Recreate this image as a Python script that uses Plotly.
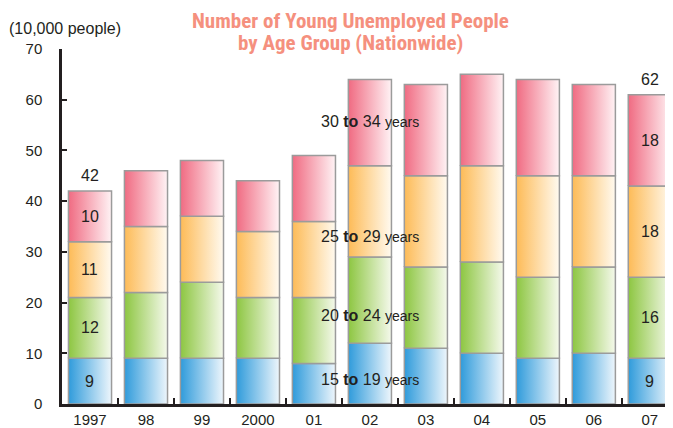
import plotly.graph_objects as go

# data (unit: 10,000 people)
years = ["1997", "98", "99", "2000", "01", "02", "03", "04", "05", "06", "07"]
age_15_19 = [9, 9, 9, 9, 8, 12, 11, 10, 9, 10, 9]
age_20_24 = [12, 13, 15, 12, 13, 17, 16, 18, 16, 17, 16]
age_25_29 = [11, 13, 13, 13, 15, 18, 18, 19, 20, 18, 18]
age_30_34 = [10, 11, 11, 10, 13, 17, 18, 18, 19, 18, 18]
total_labels = {"1997": "42", "07": "62"}
series_names = ["15 to 19 years", "20 to 24 years", "25 to 29 years", "30 to 34 years"]
title_lines = ["Number of Young Unemployed People", "by Age Group (Nationwide)"]

series = [age_15_19, age_20_24, age_25_29, age_30_34]
# left (saturated) -> right (pale) colours of each band
grads = [
    ("#2f9bdb", "#eef6fc"),
    ("#8dc641", "#f5f9ec"),
    ("#fdbb57", "#fffaf0"),
    ("#f06b82", "#fff3f5"),
]
dark = "#231f20"
half = 0.385

fig = go.Figure()

base = [0] * len(years)
for s, vals in enumerate(series):
    for i, v in enumerate(vals):
        b = base[i]
        fig.add_trace(go.Scatter(
            x=[i - half, i + half, i + half, i - half, i - half],
            y=[b, b, b + v, b + v, b],
            mode="lines",
            fill="toself",
            fillgradient=dict(type="horizontal",
                              colorscale=[[0, grads[s][0]], [1, grads[s][1]]]),
            line=dict(color="#9b9b9b", width=1.5),
            showlegend=False,
            hoverinfo="skip",
        ))
        # segment values written only on the first and last bars
        if years[i] in total_labels:
            fig.add_annotation(x=i, y=b + v / 2, text=str(v), showarrow=False,
                               font=dict(size=16, color=dark))
        base[i] = b + v

for i, y in enumerate(years):
    if y in total_labels:
        fig.add_annotation(x=i, y=base[i] + 3, text=total_labels[y], showarrow=False,
                           font=dict(size=16, color=dark))

# series names, written across the 2002 bar
name_y = [4.9, 17.4, 33, 55.7]
for name, yy in zip(series_names, name_y):
    a, _, b, word = name.split(" ")
    fig.add_annotation(
        x=years.index("02"), y=yy, showarrow=False,
        text=f"{a} <b>to</b> {b} <span style='font-size:14px'>{word}</span>",
        font=dict(size=16, color=dark),
    )

fig.add_annotation(xref="paper", yref="paper", x=0.005, y=1.059, xanchor="center",
                   yanchor="middle", text="(10,000 people)", showarrow=False,
                   font=dict(size=16, color=dark))
# title, one annotation per line for tight leading
for line, ty in zip(title_lines, [1.079, 1.018]):
    fig.add_annotation(xref="paper", yref="paper", x=0.47, y=ty, xanchor="center",
                       yanchor="middle", text=f"<b>{line}</b>", showarrow=False,
                       font=dict(size=21, color="#f5907e",
                                 family="Roboto Condensed, Liberation Sans Narrow, Roboto"))

fig.update_layout(
    width=673, height=428,
    margin=dict(l=54, r=6, t=41, b=32),
    plot_bgcolor="white", paper_bgcolor="white",
    font=dict(family="Liberation Sans, Arial", color=dark, size=15),
    xaxis=dict(
        range=[-0.5, 10.45],
        tickvals=list(range(len(years))), ticktext=years,
        ticks="", showgrid=False, zeroline=False,
        showline=True, linecolor=dark, linewidth=2.5,
        minor=dict(tickvals=[i + 0.5 for i in range(len(years) - 1)],
                   ticks="inside", ticklen=6, tickwidth=2, tickcolor=dark),
        tickfont=dict(size=15),
    ),
    yaxis=dict(
        range=[0, 70], dtick=10,
        ticks="inside", ticklen=5, tickwidth=2, tickcolor=dark,
        showgrid=False, zeroline=False,
        showline=True, linecolor=dark, linewidth=2.5,
        ticklabelstandoff=14,
        tickfont=dict(size=15),
    ),
)

fig.write_html("out.html")
